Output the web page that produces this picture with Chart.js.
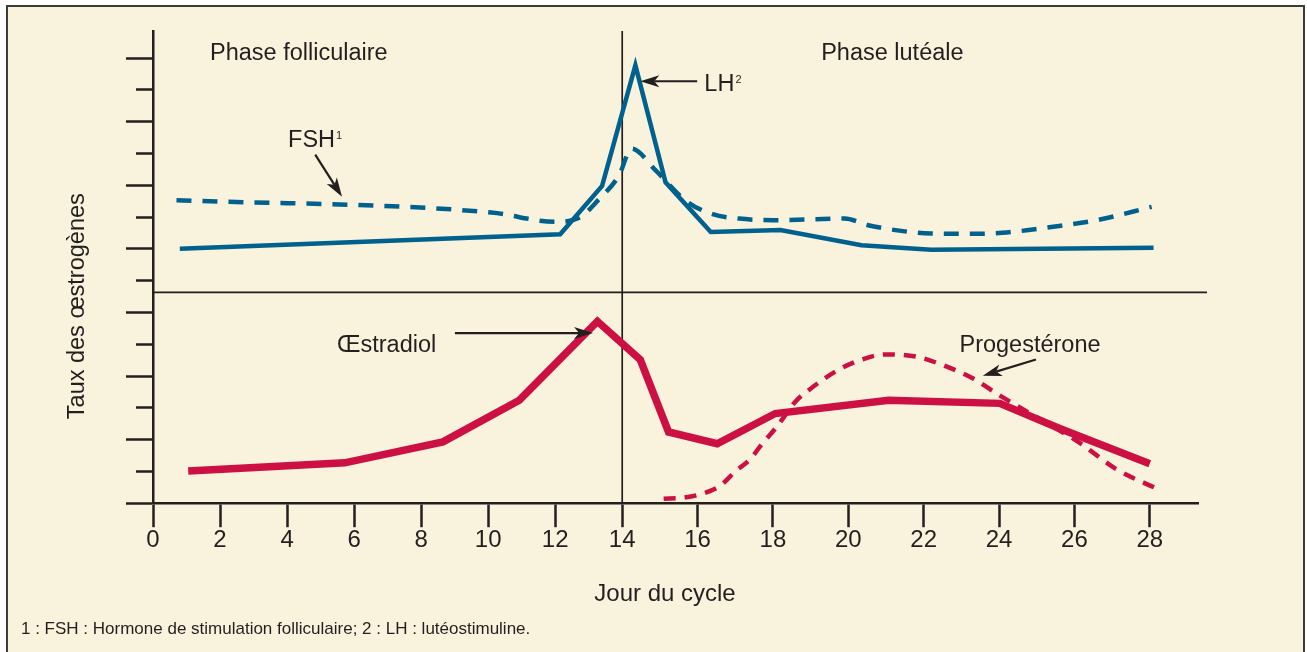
<!DOCTYPE html>
<html lang="fr">
<head>
<meta charset="utf-8">
<title>Cycle ovarien</title>
<script src="https://cdn.jsdelivr.net/npm/chart.js@4.4.1/dist/chart.umd.min.js"></script>
<style>
  html, body { margin: 0; padding: 0; background: #fff; overflow: hidden; }
  body { width: 1307px; height: 652px; position: relative; font-family: 'Liberation Sans', Arial, sans-serif; }
  .cadre { position: absolute; left: 6px; top: 5px; width: 1295px; height: 700px; border: 2px solid #3d3b3a; background: #f9f2dc; }
  #courbes { position: absolute; left: 0; top: 0; }
  .note { position: absolute; left: 21px; top: 620px; margin: 0; font-size: 17px; line-height: 17px; color: #231f20; }
</style>
</head>
<body>
<div class="cadre"></div>
<canvas id="courbes" width="1307" height="652"></canvas>
<p class="note">1 : FSH : Hormone de stimulation folliculaire; 2 : LH : lutéostimuline.</p>
<script>
// graduations
const cycleDays = [0, 2, 4, 6, 8, 10, 12, 14, 16, 18, 20, 22, 24, 26, 28];
const levelTicks = [0, 1, 2, 3, 4, 5, 6, 7, 8, 9, 10, 11, 12, 13, 14];

// hormones hypophysaires (partie haute)
const fshDays   = [0.7, 10.1, 12.0, 12.7, 13.3, 13.9, 14.25, 14.9, 15.7, 16.4, 17.1, 18.0, 19.9, 20.5, 21.3, 22.2, 23.5, 24.4, 25.6, 26.6, 28.05];
const fshLevels = [9.53, 9.14, 8.85, 8.97, 9.55, 10.3, 11.15, 10.45, 9.5, 9.09, 8.95, 8.9, 8.95, 8.75, 8.58, 8.48, 8.47, 8.54, 8.72, 8.9, 9.32];
const lhDays    = [0.8, 12.15, 13.4, 14.35, 15.15, 16.35, 18.2, 20.35, 22.2, 28.1];
const lhLevels  = [8.0, 8.46, 9.98, 13.77, 10.09, 8.53, 8.59, 8.11, 7.97, 8.03];

// hormones ovariennes (partie basse)
const oestradiolDays   = [1.05, 5.72, 8.65, 10.93, 13.26, 14.48, 15.23, 16.52, 18.06, 21.07, 24.02, 25.61, 28.0];
const oestradiolLevels = [1.01, 1.27, 1.93, 3.24, 5.72, 4.51, 2.24, 1.87, 2.82, 3.24, 3.14, 2.35, 1.24];
const progDays   = [15.1, 15.6, 16.1, 16.6, 17.0, 17.4, 17.7, 18.1, 18.6, 19.0, 19.6, 20.2, 21.0, 21.8, 22.6, 23.3, 24.0, 24.9, 26.1, 27.1, 28.2];
const progLevels = [0.14, 0.17, 0.29, 0.55, 1.0, 1.39, 1.85, 2.4, 3.2, 3.6, 4.1, 4.45, 4.68, 4.61, 4.3, 3.93, 3.4, 2.77, 1.93, 1.08, 0.45];

const OVULATION = 14;          // trait vertical
const OVULATION_SHARE = 0.449; // la phase folliculaire est dessinée plus serrée
const PANEL_SPLIT = 6.63;      // séparation haut / bas

const INK = '#231f20';
const BLUE = '#00618f';
const RED = '#cd1043';
const FONT = '"Liberation Sans", Arial, sans-serif';

// echelle lineaire en deux morceaux (avant / apres l'ovulation)
class CycleScale extends Chart.LinearScale {
  getPixelForValue(value) {
    let f;
    if (value <= OVULATION) {
      f = (value - this.min) / (OVULATION - this.min) * OVULATION_SHARE;
    } else {
      f = OVULATION_SHARE + (value - OVULATION) / (this.max - OVULATION) * (1 - OVULATION_SHARE);
    }
    return this.getPixelForDecimal(f);
  }
  getValueForPixel(pixel) {
    const f = this.getDecimalForPixel(pixel);
    if (f <= OVULATION_SHARE) return this.min + f / OVULATION_SHARE * (OVULATION - this.min);
    return OVULATION + (f - OVULATION_SHARE) / (1 - OVULATION_SHARE) * (this.max - OVULATION);
  }
}
CycleScale.id = 'cycle';
CycleScale.defaults = Chart.LinearScale.defaults;
Chart.register(CycleScale);

function toPoints(days, levels) {
  return days.map((d, i) => ({ x: d, y: levels[i] }));
}

function arrow(ctx, x1, y1, x2, y2) {
  const a = Math.atan2(y2 - y1, x2 - x1);
  const len = 19, half = 6, notch = 14;
  ctx.beginPath();
  ctx.moveTo(x1, y1);
  ctx.lineTo(x2 - Math.cos(a) * notch, y2 - Math.sin(a) * notch);
  ctx.stroke();
  ctx.save();
  ctx.translate(x2, y2);
  ctx.rotate(a);
  ctx.beginPath();
  ctx.moveTo(0, 0);
  ctx.lineTo(-len, -half);
  ctx.lineTo(-notch, 0);
  ctx.lineTo(-len, half);
  ctx.closePath();
  ctx.fill();
  ctx.restore();
}

const habillage = {
  id: 'habillage',
  beforeDatasetsDraw(chart) {
    const { ctx, chartArea, scales: { x, y } } = chart;
    ctx.save();
    ctx.strokeStyle = INK;
    ctx.lineWidth = 1.7;
    const xo = x.getPixelForValue(OVULATION);
    ctx.beginPath();
    ctx.moveTo(xo, chartArea.top);
    ctx.lineTo(xo, chartArea.bottom);
    ctx.stroke();
    const ys = y.getPixelForValue(PANEL_SPLIT);
    ctx.beginPath();
    ctx.moveTo(chartArea.left, ys);
    ctx.lineTo(chartArea.right + 9, ys);
    ctx.stroke();
    ctx.restore();
  },
  afterDraw(chart) {
    const { ctx, chartArea, scales: { x, y } } = chart;
    const px = d => x.getPixelForValue(d);
    const py = v => y.getPixelForValue(v);
    ctx.save();
    ctx.fillStyle = INK;
    ctx.strokeStyle = INK;
    ctx.textBaseline = 'alphabetic';
    ctx.textAlign = 'left';
    ctx.font = '23.5px ' + FONT;

    const labels = [
      ['Phase folliculaire', 1.70, 13.95],
      ['Phase lutéale', 19.28, 13.95],
      ['FSH', 4.03, 11.19, '1'],
      ['LH', 16.18, 12.96, '2'],
      ['Œstradiol', 5.49, 4.77],
      ['Progestérone', 22.95, 4.75]
    ];
    labels.forEach(([text, d, v, sup]) => {
      ctx.font = '23.5px ' + FONT;
      ctx.fillText(text, px(d), py(v));
      if (sup) {
        const w = ctx.measureText(text).width;
        ctx.font = '11px ' + FONT;
        ctx.fillText(sup, px(d) + w + 1, py(v) - 8);
      }
    });

    ctx.lineWidth = 2.2;
    arrow(ctx, px(4.84), py(10.96), px(5.64), py(9.64));
    arrow(ctx, px(15.99), py(13.27), px(14.48), py(13.27));
    arrow(ctx, px(9.01), py(5.35), px(13.13), py(5.35));
    arrow(ctx, px(24.98), py(4.52), px(23.57), py(4.01));

    // titres des axes
    ctx.font = '24px ' + FONT;
    ctx.textAlign = 'center';
    ctx.fillText('Jour du cycle', chartArea.left + 512, chartArea.bottom + 98);
    ctx.translate(chartArea.left - 69, chartArea.bottom - 197);
    ctx.rotate(-Math.PI / 2);
    ctx.font = '23.5px ' + FONT;
    ctx.fillText('Taux des œstrogènes', 0, 0);
    ctx.restore();
  }
};

const lineStyle = {
  pointRadius: 0,
  fill: false,
  borderCapStyle: 'butt',
  borderJoinStyle: 'miter'
};

new Chart(document.getElementById('courbes'), {
  type: 'line',
  data: {
    datasets: [
      Object.assign({ label: 'FSH', data: toPoints(fshDays, fshLevels), borderColor: BLUE, borderWidth: 4.5, borderDash: [15, 11], cubicInterpolationMode: 'monotone' }, lineStyle),
      Object.assign({ label: 'LH', data: toPoints(lhDays, lhLevels), borderColor: BLUE, borderWidth: 4.5, tension: 0 }, lineStyle),
      Object.assign({ label: 'Œstradiol', data: toPoints(oestradiolDays, oestradiolLevels), borderColor: RED, borderWidth: 7.5, tension: 0 }, lineStyle),
      Object.assign({ label: 'Progestérone', data: toPoints(progDays, progLevels), borderColor: RED, borderWidth: 4.5, borderDash: [12, 9], cubicInterpolationMode: 'monotone' }, lineStyle)
    ]
  },
  options: {
    responsive: false,
    animation: false,
    events: [],
    layout: { padding: { left: 126, top: 31, right: 109, bottom: 98 } },
    plugins: {
      legend: { display: false },
      tooltip: { enabled: false }
    },
    scales: {
      x: {
        type: 'cycle',
        min: 0,
        max: 29.28,
        afterBuildTicks: scale => { scale.ticks = cycleDays.map(v => ({ value: v })); },
        ticks: {
          autoSkip: false,
          maxRotation: 0,
          padding: -1,
          color: INK,
          font: { size: 24, family: FONT },
          callback: v => String(v)
        },
        grid: { drawOnChartArea: false, drawTicks: true, tickLength: 24, tickWidth: 2.5, tickColor: INK },
        border: { display: true, color: INK, width: 2.5 }
      },
      y: {
        type: 'linear',
        min: 0,
        max: 14.85,
        afterBuildTicks: scale => { scale.ticks = levelTicks.map(v => ({ value: v })); },
        ticks: { display: false },
        grid: {
          drawOnChartArea: false,
          drawTicks: true,
          tickLength: 27,
          tickWidth: 2.5,
          tickColor: INK,
          // graduations intermediaires plus courtes
          tickBorderDash: ctx => (ctx.tick && ctx.tick.value % 2 === 1) ? [0, 10, 40] : []
        },
        border: { display: true, color: INK, width: 2.5 }
      }
    }
  },
  plugins: [habillage]
});
</script>
</body>
</html>
